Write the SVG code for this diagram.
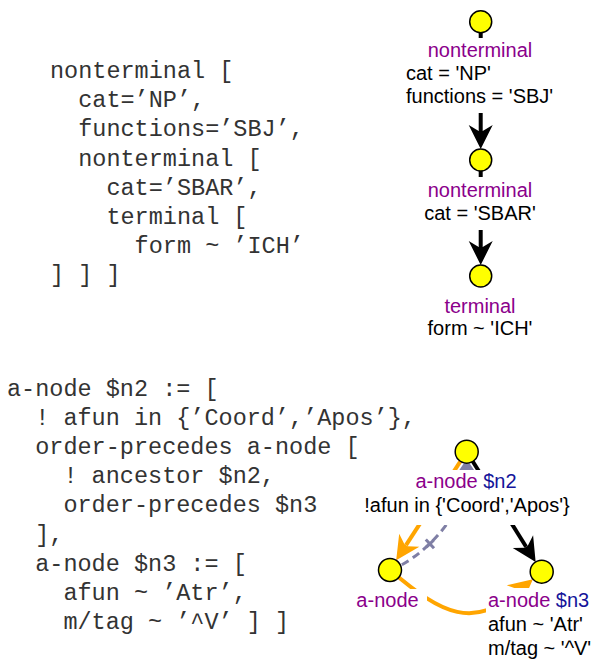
<svg xmlns="http://www.w3.org/2000/svg" width="598" height="662" viewBox="0 0 598 662">
<style>
.code{font-family:"Liberation Mono","Courier New",monospace;font-size:23.5px;fill:#333;white-space:pre}
.lbl{font-family:"Liberation Sans",Arial,sans-serif;font-size:20px;fill:#000}
.typ{fill:#8b008b}
.var{fill:#14149a}
.nd{fill:#ffff00;stroke:#000;stroke-width:1.5}
.e{fill:none;stroke-linecap:butt}
.blk{stroke:#000;stroke-width:4;marker-end:url(#ab)}
.org{stroke:#ffa500;stroke-width:4;marker-end:url(#ao)}
.gry{stroke:#7f7fa5;stroke-width:3;stroke-dasharray:8 5;marker-end:url(#ag)}
</style>
<defs>
<marker id="ab" markerUnits="userSpaceOnUse" markerWidth="24" markerHeight="24" refX="6" refY="12" orient="auto" overflow="visible"><path d="M24,12 L0,0 L6,10 L6,14 L0,24 Z" fill="#000"/></marker>
<marker id="ao" markerUnits="userSpaceOnUse" markerWidth="24" markerHeight="24" refX="6" refY="12" orient="auto" overflow="visible"><path d="M24,12 L0,0 L6,10 L6,14 L0,24 Z" fill="#ffa500"/></marker>
<marker id="ag" markerUnits="userSpaceOnUse" markerWidth="24" markerHeight="24" refX="6" refY="12" orient="auto" overflow="visible"><path d="M18,12 L0,0 L6,10.5 L6,13.5 L0,24 Z" fill="#7f7fa5"/></marker>
<mask id="lm" maskUnits="userSpaceOnUse" x="0" y="0" width="598" height="662">
<rect x="0" y="0" width="598" height="662" fill="#fff"/>
<rect x="400" y="38" width="160" height="75" fill="#000"/>
<rect x="415" y="177" width="130" height="53" fill="#000"/>
<rect x="355" y="470" width="225" height="55" fill="#000"/>
<rect x="352" y="589" width="75" height="26" fill="#000"/>
<rect x="486" y="588" width="112" height="74" fill="#000"/>
</mask>
</defs>

<g id="code-top">
<text class="code" x="50" y="78" xml:space="preserve">nonterminal [</text>
<text class="code" x="50" y="107.2" xml:space="preserve">  cat=’NP’,</text>
<text class="code" x="50" y="136.4" xml:space="preserve">  functions=’SBJ’,</text>
<text class="code" x="50" y="165.6" xml:space="preserve">  nonterminal [</text>
<text class="code" x="50" y="194.8" xml:space="preserve">    cat=’SBAR’,</text>
<text class="code" x="50" y="224" xml:space="preserve">    terminal [</text>
<text class="code" x="50" y="253.2" xml:space="preserve">      form ~ ’ICH’</text>
<text class="code" x="50" y="282.4" xml:space="preserve">] ] ]</text>
</g>

<g id="code-bottom">
<text class="code" x="7" y="396" xml:space="preserve">a-node $n2 := [</text>
<text class="code" x="7" y="425.1" xml:space="preserve">  ! afun in {’Coord’,’Apos’},</text>
<text class="code" x="7" y="454.2" xml:space="preserve">  order-precedes a-node [</text>
<text class="code" x="7" y="483.3" xml:space="preserve">    ! ancestor $n2,</text>
<text class="code" x="7" y="512.4" xml:space="preserve">    order-precedes $n3</text>
<text class="code" x="7" y="541.5" xml:space="preserve">  ],</text>
<text class="code" x="7" y="570.6" xml:space="preserve">  a-node $n3 := [</text>
<text class="code" x="7" y="599.7" xml:space="preserve">    afun ~ ’Atr’,</text>
<text class="code" x="7" y="628.8" xml:space="preserve">    m/tag ~ ’^V’ ] ]</text>
</g>

<g id="connectors" mask="url(#lm)">
<path class="e blk" d="M480.7,21.7 L480.7,131"/>
<path class="e blk" d="M480.7,160 L480.7,247"/>
<path class="e blk" d="M466.7,451.7 L526.1,546.7"/>
<path class="e org" d="M466.7,451.7 L406,545.2"/>
<path class="e gry" d="M390,570 C420,560 466.7,515 466.7,471"/>
<path class="e" stroke="#7f7fa5" stroke-width="3" d="M425.8,539.4 L434,548.2 M426.3,547.2 L433.5,540.4"/>
<path class="e org" stroke-width="3.5" d="M390,570 C443.2,615.5 473.1,629.3 519.1,590.7"/>
</g>

<g id="node-nt1">
<circle class="nd" cx="480.7" cy="21.7" r="11"/>
<text class="lbl typ" x="480" y="57" text-anchor="middle">nonterminal</text>
<text class="lbl" x="406" y="80">cat = 'NP'</text>
<text class="lbl" x="406" y="103">functions = 'SBJ'</text>
</g>
<g id="node-nt2">
<circle class="nd" cx="480.7" cy="160" r="11"/>
<text class="lbl typ" x="480" y="196.5" text-anchor="middle">nonterminal</text>
<text class="lbl" x="480" y="220" text-anchor="middle">cat = 'SBAR'</text>
</g>
<g id="node-t">
<circle class="nd" cx="480.7" cy="276" r="11"/>
<text class="lbl typ" x="480" y="312.5" text-anchor="middle">terminal</text>
<text class="lbl" x="480" y="335" text-anchor="middle">form ~ 'ICH'</text>
</g>

<g id="node-n2">
<circle class="nd" cx="466.7" cy="451.7" r="11.5"/>
<text class="lbl" x="466" y="488" text-anchor="middle"><tspan class="typ">a-node </tspan><tspan class="var">$n2</tspan></text>
<text class="lbl" x="467" y="512" text-anchor="middle">!afun in {'Coord','Apos'}</text>
</g>
<g id="node-a">
<circle class="nd" cx="390" cy="570" r="11.5"/>
<text class="lbl typ" x="387.5" y="607" text-anchor="middle">a-node</text>
</g>
<g id="node-n3">
<circle class="nd" cx="541.7" cy="571.7" r="11.5"/>
<text class="lbl" x="488" y="607"><tspan class="typ">a-node </tspan><tspan class="var">$n3</tspan></text>
<text class="lbl" x="488" y="631">afun ~ 'Atr'</text>
<text class="lbl" x="488" y="655">m/tag ~ '^V'</text>
</g>
</svg>
